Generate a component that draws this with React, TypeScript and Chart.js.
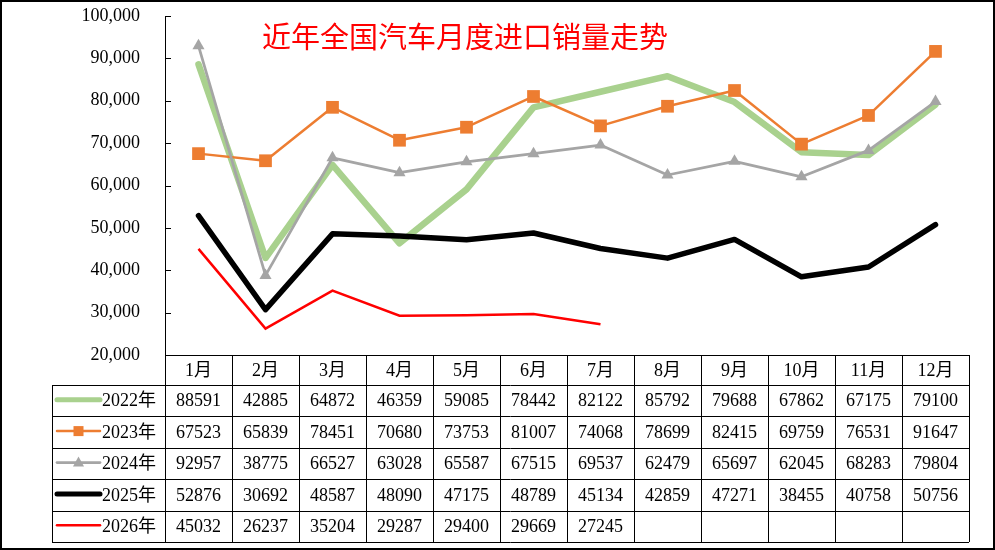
import React, { useEffect, useRef } from "react";
import { Chart, registerables } from "chart.js";

Chart.register(...registerables);

const chartTitle = "近年全国汽车月度进口销量走势";
const months = ["1月", "2月", "3月", "4月", "5月", "6月", "7月", "8月", "9月", "10月", "11月", "12月"];
const seriesNames = ["2022年", "2023年", "2024年", "2025年", "2026年"];
const sales2022 = [88591, 42885, 64872, 46359, 59085, 78442, 82122, 85792, 79688, 67862, 67175, 79100];
const sales2023 = [67523, 65839, 78451, 70680, 73753, 81007, 74068, 78699, 82415, 69759, 76531, 91647];
const sales2024 = [92957, 38775, 66527, 63028, 65587, 67515, 69537, 62479, 65697, 62045, 68283, 79804];
const sales2025 = [52876, 30692, 48587, 48090, 47175, 48789, 45134, 42859, 47271, 38455, 40758, 50756];
const sales2026: (number | null)[] = [45032, 26237, 35204, 29287, 29400, 29669, 27245, null, null, null, null, null];
const yMin = 20000;
const yMax = 100000;
const yStep = 10000;

const SERIF = '"Liberation Serif", "Noto Sans CJK SC", serif';

const formatTick = (v: number) => {
  const s = String(Math.round(v));
  return s.replace(/\B(?=(\d{3})+(?!\d))/g, ",");
};

const tablePlugin = {
  id: "excelTable",
  beforeDraw(chart: any) {
    const ctx = chart.ctx;
    ctx.save();
    ctx.fillStyle = "#ffffff";
    ctx.fillRect(0, 0, chart.width, chart.height);
    ctx.restore();
  },
  afterDraw(chart: any) {
    const ctx: CanvasRenderingContext2D = chart.ctx;
    const xs = chart.scales.x;
    const ys = chart.scales.y;
    const area = chart.chartArea;
    const colW = xs.getPixelForValue(1) - xs.getPixelForValue(0);
    const left = area.left;
    const right = area.right;
    const top = area.bottom;
    const headerH = 30;
    const rowH = 31.4;
    const legendLeft = 52;
    const nRows = seriesNames.length;
    const bottom = top + headerH + rowH * nRows;

    ctx.save();
    // inward tick marks on the y axis
    ctx.strokeStyle = "#000";
    ctx.lineWidth = 1;
    ys.ticks.forEach((t: any) => {
      const py = Math.round(ys.getPixelForValue(t.value)) + 0.5;
      ctx.beginPath();
      ctx.moveTo(left, py);
      ctx.lineTo(left + 6, py);
      ctx.stroke();
    });

    // title
    ctx.fillStyle = "#ff0000";
    ctx.font = '29px "Noto Sans CJK SC", sans-serif';
    ctx.textAlign = "left";
    ctx.textBaseline = "middle";
    ctx.fillText(chartTitle, left + 97, area.top + 21);

    // table grid
    ctx.strokeStyle = "#000";
    ctx.lineWidth = 1;
    const hl = (x1: number, x2: number, y: number) => {
      ctx.beginPath();
      ctx.moveTo(x1, Math.round(y) + 0.5);
      ctx.lineTo(x2, Math.round(y) + 0.5);
      ctx.stroke();
    };
    const vl = (x: number, y1: number, y2: number) => {
      ctx.beginPath();
      ctx.moveTo(Math.round(x) + 0.5, y1);
      ctx.lineTo(Math.round(x) + 0.5, y2);
      ctx.stroke();
    };
    hl(left, right, top);
    for (let r = 0; r <= nRows; r++) {
      hl(legendLeft, right, top + headerH + rowH * r);
    }
    for (let c = 0; c <= months.length; c++) {
      const cx = xs.getPixelForValue(0) - colW / 2 + colW * c;
      vl(cx, top, bottom);
    }
    vl(legendLeft, top + headerH, bottom);

    // header text
    ctx.fillStyle = "#000";
    ctx.font = `18px ${SERIF}`;
    ctx.textAlign = "center";
    ctx.textBaseline = "middle";
    months.forEach((m, i) => {
      ctx.fillText(m, xs.getPixelForValue(i), top + headerH / 2 + 1);
    });

    // rows
    chart.data.datasets.forEach((ds: any, r: number) => {
      const cy = top + headerH + rowH * r + rowH / 2 + 1;
      ds.data.forEach((v: number | null, i: number) => {
        if (v === null || v === undefined) return;
        ctx.fillStyle = "#000";
        ctx.textAlign = "center";
        ctx.fillText(String(v), xs.getPixelForValue(i), cy);
      });
      // legend sample
      const lx1 = legendLeft + 5;
      const lx2 = legendLeft + 48;
      const ly = cy - 2;
      ctx.strokeStyle = ds.borderColor;
      ctx.lineWidth = Math.min(ds.borderWidth, 5);
      ctx.lineCap = "round";
      ctx.beginPath();
      ctx.moveTo(lx1, ly);
      ctx.lineTo(lx2, ly);
      ctx.stroke();
      const mx = (lx1 + lx2) / 2;
      ctx.fillStyle = ds.pointBackgroundColor;
      if (ds.pointStyle === "rect") {
        ctx.fillRect(mx - 5, ly - 5, 10, 10);
      } else if (ds.pointStyle === "triangle") {
        ctx.beginPath();
        ctx.moveTo(mx, ly - 6);
        ctx.lineTo(mx + 5.5, ly + 4);
        ctx.lineTo(mx - 5.5, ly + 4);
        ctx.closePath();
        ctx.fill();
      }
      ctx.fillStyle = "#000";
      ctx.textAlign = "left";
      ctx.fillText(seriesNames[r], legendLeft + 50, cy);
    });

    // outer frame
    ctx.strokeStyle = "#000";
    ctx.lineWidth = 2;
    ctx.strokeRect(1, 1, chart.width - 2, chart.height - 2);
    ctx.restore();
  },
};

export default function App() {
  const ref = useRef<HTMLCanvasElement | null>(null);

  useEffect(() => {
    if (!ref.current) return;
    const common = {
      borderJoinStyle: "round" as const,
      borderCapStyle: "round" as const,
      pointBorderWidth: 0,
      pointHoverRadius: 0,
      spanGaps: false,
    };
    const chart = new Chart(ref.current, {
      type: "line",
      data: {
        labels: months,
        datasets: [
          {
            ...common,
            label: seriesNames[0],
            data: sales2022,
            borderColor: "#A9D18E",
            backgroundColor: "#A9D18E",
            pointBackgroundColor: "#A9D18E",
            borderWidth: 6.5,
            pointRadius: 0,
            pointStyle: false as any,
            order: 4,
          },
          {
            ...common,
            label: seriesNames[1],
            data: sales2023,
            borderColor: "#ED7D31",
            backgroundColor: "#ED7D31",
            pointBackgroundColor: "#ED7D31",
            pointBorderColor: "#ED7D31",
            borderWidth: 2.5,
            pointRadius: 9,
            pointStyle: "rect",
            order: 3,
          },
          {
            ...common,
            label: seriesNames[2],
            data: sales2024,
            borderColor: "#A5A5A5",
            backgroundColor: "#A5A5A5",
            pointBackgroundColor: "#A5A5A5",
            pointBorderColor: "#A5A5A5",
            borderWidth: 2.75,
            pointRadius: 7,
            pointStyle: "triangle",
            order: 2,
          },
          {
            ...common,
            label: seriesNames[3],
            data: sales2025,
            borderColor: "#000000",
            backgroundColor: "#000000",
            pointBackgroundColor: "#000000",
            borderWidth: 5.5,
            pointRadius: 0,
            pointStyle: false as any,
            order: 1,
          },
          {
            ...common,
            label: seriesNames[4],
            data: sales2026,
            borderColor: "#FF0000",
            backgroundColor: "#FF0000",
            pointBackgroundColor: "#FF0000",
            borderWidth: 2.5,
            pointRadius: 0,
            pointStyle: false as any,
            borderJoinStyle: "miter",
            borderCapStyle: "butt",
            order: 0,
          },
        ],
      },
      options: {
        responsive: false,
        animation: false,
        devicePixelRatio: 1,
        layout: { padding: { left: 0, right: 26, top: 16, bottom: 195 } },
        plugins: {
          legend: { display: false },
          title: { display: false },
          tooltip: { enabled: false },
        },
        events: [],
        scales: {
          x: {
            type: "category",
            display: false,
            offset: true,
          },
          y: {
            min: yMin,
            max: yMax,
            afterFit: (scale: any) => {
              scale.width = 165;
              scale.paddingTop = 0;
              scale.paddingBottom = 0;
            },
            grid: { display: false, drawTicks: false, tickLength: 0 },
            border: { display: true, color: "#000", width: 1 },
            ticks: {
              stepSize: yStep,
              padding: 25,
              color: "#000",
              font: { family: SERIF, size: 18 },
              callback: (v: any) => formatTick(Number(v)),
            },
          },
        },
      },
      plugins: [tablePlugin],
    });
    return () => chart.destroy();
  }, []);

  return (
    <div style={{ position: "absolute", left: 0, top: 0, width: 995, height: 550, background: "#fff" }}>
      <canvas ref={ref} width={995} height={550} style={{ width: 995, height: 550, display: "block" }} />
    </div>
  );
}
